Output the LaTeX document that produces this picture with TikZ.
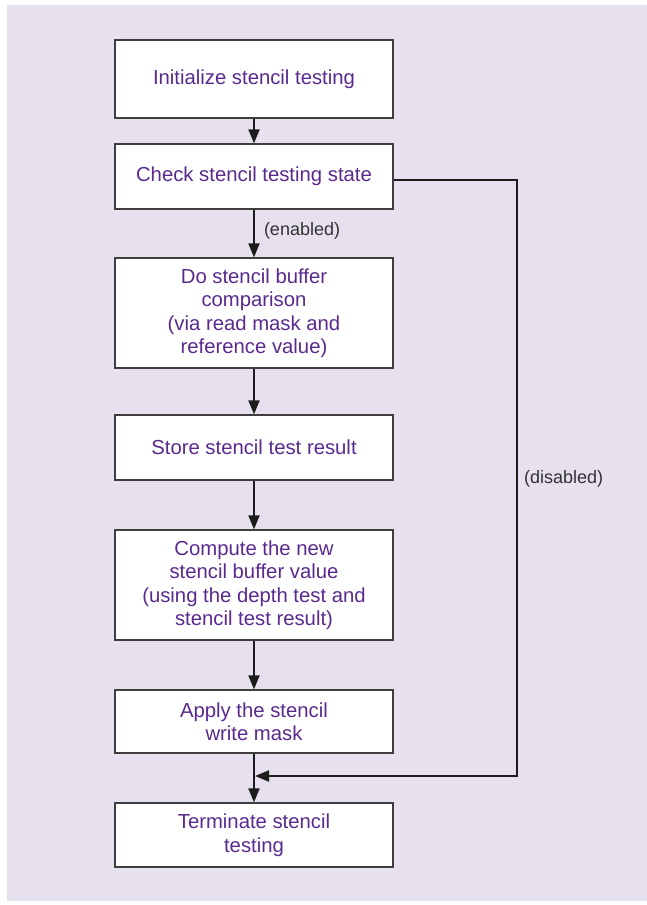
\documentclass[tikz,border=0pt]{standalone}
\usepackage{fontspec}
\setmainfont{Liberation Sans}
\usetikzlibrary{arrows.meta}
\definecolor{pagebg}{HTML}{E6E0EF}
\definecolor{labelpurple}{HTML}{5A2A8E}
\definecolor{edge}{HTML}{1C1C1C}
\tikzset{
  stepbox/.style={draw=edge!85, line width=1.3pt, fill=white, minimum width=278pt,
    align=center, text=labelpurple, inner sep=0pt,
    font=\fontsize{20.3}{23.5}\selectfont},
  flow/.style={draw=edge, line width=2pt, -{Triangle[length=14pt,width=11pt]}},
  note/.style={text=edge!90, font=\fontsize{18}{20}\selectfont, inner sep=0pt}
}
\begin{document}
\begin{tikzpicture}[x=1pt,y=-1pt]
\useasboundingbox (0,0) rectangle (647,905);
\fill[white] (0,0) rectangle (647,905);
\fill[pagebg] (7,5) rectangle (647,901);

\node[stepbox, minimum height=78pt] (init) at (254,79) {Initialize stencil testing};
\node[stepbox, minimum height=65pt] (check) at (254,176.5) {Check stencil testing state};
\node[stepbox, minimum height=110pt] (compare) at (254,313) {Do stencil buffer\\comparison\\(via read mask and\\reference value)};
\node[stepbox, minimum height=65pt] (store) at (254,447.5) {Store stencil test result};
\node[stepbox, minimum height=110pt] (compute) at (254,585) {Compute the new\\stencil buffer value\\(using the depth test and\\stencil test result)};
\node[stepbox, minimum height=63pt] (apply) at (254,721.5) {Apply the stencil\\write mask};
\node[stepbox, minimum height=64pt] (term) at (254,835) {Terminate stencil\\testing};

\coordinate (corner1) at (517,180);
\coordinate (corner2) at (517,776);
\coordinate (join) at (254,776);

\draw[flow] (init) -- (check);
\draw[flow] (check) -- node[note, right=9pt, pos=0.45] (enabled) {(enabled)} (compare);
\draw[flow] (compare) -- (store);
\draw[flow] (store) -- (compute);
\draw[flow] (compute) -- (apply);
\draw[flow] (apply) -- (term);
\draw[flow] (check.east |- corner1) -- (corner1) -- (corner2) -- ([xshift=1pt]join);
\node[note, anchor=west] (disabled) at (524,479) {(disabled)};
\end{tikzpicture}
\end{document}
